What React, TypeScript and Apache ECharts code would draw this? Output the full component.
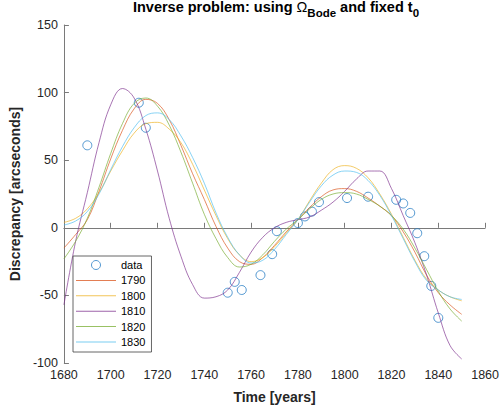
import React, { useEffect, useRef } from "react";
import * as echarts from "echarts";

const FONT = "'Liberation Sans', Arial, Helvetica, sans-serif";

// Fit curve sample years
const fitYears = [
  1680, 1685, 1690, 1695, 1700, 1705, 1710, 1715, 1720, 1725, 1730, 1735,
  1740, 1745, 1750, 1755, 1760, 1765, 1770, 1775, 1780, 1785, 1790, 1795,
  1800, 1805, 1810, 1815, 1820, 1825, 1830, 1835, 1840, 1845, 1850,
];

const fit1790 = [
  -15, -5, 6, 27, 51, 72, 88, 95, 92, 80, 61, 40, 21, 1, -15, -25, -27, -22,
  -13, -3, 6, 15, 23, 28, 29, 27, 22, 16, 9, -3, -18, -35, -48, -57, -64,
];
const fit1800 = [
  4, 7, 14, 26, 42, 57, 70, 77, 78, 73, 63, 47, 28, 9, -8, -20, -25, -22, -14,
  -4, 6, 20, 33, 43, 46, 44, 37, 25, 10, -7, -24, -38, -46, -51, -54,
];
const fit1810 = [
  -57, -10, 26, 63, 91, 103, 96, 73, 42, 7, -21, -42, -52, -51, -46, -33, -18,
  -7, 0, 4, 6, 8, 13, 19, 27, 36, 42, 42, 29, 9, -11, -35, -63, -87, -97,
];
const fit1820 = [
  -23, -10, 7, 30, 55, 77, 92, 96, 90, 76, 56, 33, 10, -8, -22, -29, -27, -20,
  -10, -1, 6, 14, 21, 25, 26, 25, 21, 16, 9, -1, -15, -31, -47, -60, -69,
];
const fit1830 = [
  2, 5, 12, 25, 43, 60, 74, 83, 85, 80, 68, 52, 33, 11, -7, -20, -26, -24, -16,
  -5, 6, 19, 31, 39, 42, 41, 35, 24, 9, -8, -25, -39, -46, -51, -53,
];

// Observed data
const dataYears = [
  1690, 1712, 1715, 1750, 1753, 1756, 1764, 1769, 1771, 1780, 1783, 1786,
  1789, 1801, 1810, 1822, 1825, 1828, 1831, 1834, 1837, 1840,
];
const dataValues = [
  61, 92.5, 74, -48, -40, -46, -35, -19.5, -2.5, 3.5, 8.4, 12, 19, 22, 23,
  20.7, 18, 11, -4, -21, -43, -66.6,
];

const seriesNames = ["1790", "1800", "1810", "1820", "1830"];
const seriesColors = ["#D95319", "#EDB120", "#7E2F8E", "#77AC30", "#4DBEEE"];
const seriesValues = [fit1790, fit1800, fit1810, fit1820, fit1830];

export default function App() {
  const ref = useRef<HTMLDivElement>(null);
  useEffect(() => {
    if (!ref.current) return;
    const chart = echarts.init(ref.current, null, { renderer: "svg" });
    const axisColor = "#7a7a7a";
    const labelColor = "#262626";
    const lineSeries = seriesNames.map((name, i) => ({
      name,
      type: "line",
      data: fitYears.map((x, j) => [x, seriesValues[i][j]]),
      smooth: 0.4,
      symbol: "none",
      showSymbol: false,
      z: 3,
      lineStyle: { color: seriesColors[i], width: 0.9, opacity: 0.75 },
      itemStyle: { color: seriesColors[i] },
    }));
    chart.setOption({
      animation: false,
      backgroundColor: "#fff",
      textStyle: { fontFamily: FONT },
      grid: { left: 63, top: 25, right: 13, bottom: 48 },
      graphic: [
        {
          type: "text",
          x: 276,
          y: -1,
          z: 10,
          style: {
            text: "{a|Inverse problem: using }{o|Ω}{s|Bode}{a| and fixed t}{s|0}",
            align: "center",
            verticalAlign: "top",
            fill: "#000",
            rich: {
              a: { fontSize: 14.5, fontWeight: "bold", fontFamily: FONT, fill: "#000", lineHeight: 16 },
              o: { fontSize: 14.5, fontWeight: "normal", fontFamily: FONT, fill: "#000", lineHeight: 16 },
              s: { fontSize: 11.5, fontWeight: "bold", fontFamily: FONT, fill: "#000", lineHeight: 12, padding: [12, 0, 0, 0] },
            },
          },
        },
      ],
      legend: {
        orient: "vertical",
        left: 73,
        top: 256,
        itemWidth: 40,
        itemHeight: 9,
        itemGap: 1.4,
        padding: [2, 6, 3, 3],
        borderColor: "#404040",
        borderWidth: 0.8,
        backgroundColor: "#fff",
        textStyle: { fontSize: 11, color: "#000", lineHeight: 14, fontFamily: FONT },
        data: [
          { name: "data", itemStyle: { color: "rgba(255,255,255,0)", borderColor: "#2a80c6", borderWidth: 1 } },
          ...seriesNames.map((name, i) => ({
            name,
            icon: "path://M0,0 L40,0 L40,1 L0,1 Z",
            itemStyle: { color: seriesColors[i], borderWidth: 0, opacity: 0.75 },
          })),
        ],
      },
      xAxis: {
        type: "value",
        min: 1680,
        max: 1860,
        interval: 20,
        name: "Time [years]",
        nameLocation: "middle",
        nameGap: 27,
        nameTextStyle: { fontWeight: "bold", fontSize: 14, color: labelColor, fontFamily: FONT },
        axisLine: { show: true, lineStyle: { color: axisColor, width: 1 } },
        axisTick: { show: true, inside: true, length: 5, lineStyle: { color: axisColor } },
        axisLabel: { color: labelColor, fontSize: 12.5, margin: 5, fontFamily: FONT, formatter: (v: number) => String(v) },
        splitLine: { show: false },
      },
      yAxis: {
        type: "value",
        min: -100,
        max: 150,
        interval: 50,
        name: "Discrepancy [arcseconds]",
        nameLocation: "middle",
        nameGap: 38,
        nameTextStyle: { fontWeight: "bold", fontSize: 14, color: labelColor, fontFamily: FONT },
        axisLine: { show: true, lineStyle: { color: axisColor, width: 1 } },
        axisTick: { show: true, inside: true, length: 5, lineStyle: { color: axisColor } },
        axisLabel: { color: labelColor, fontSize: 12.5, margin: 6, fontFamily: FONT, formatter: (v: number) => String(v) },
        splitLine: { show: false },
      },
      series: [
        {
          name: "data",
          type: "scatter",
          data: dataYears.map((x, i) => [x, dataValues[i]]),
          symbol: "circle",
          symbolSize: 9,
          z: 2,
          itemStyle: { color: "rgba(255,255,255,0)", borderColor: "#2a80c6", borderWidth: 1 },
        },
        ...lineSeries,
      ],
    });
    return () => chart.dispose();
  }, []);
  return (
    <div
      ref={ref}
      style={{ position: "absolute", left: 0, top: 0, width: 502, height: 411 }}
    />
  );
}
